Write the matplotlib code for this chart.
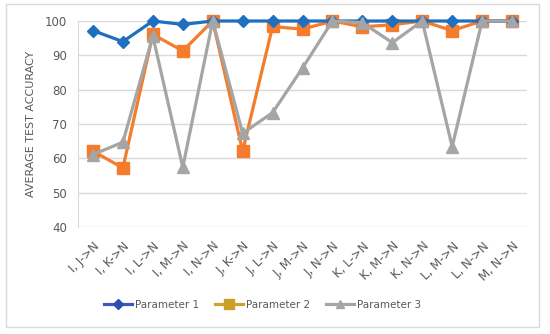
import matplotlib
matplotlib.use("Agg")
import matplotlib.pyplot as plt
from matplotlib.lines import Line2D
from matplotlib.patches import Rectangle

categories = ["I, J->N", "I, K->N", "I, L->N", "I, M->N", "I, N->N", "J, K->N",
              "J, L->N", "J, M->N", "J, N->N", "K, L->N", "K, M->N", "K, N->N",
              "L, M->N", "L, N->N", "M, N->N"]
param1 = [97.2, 94.0, 100, 99.0, 100, 100, 100, 100, 100, 100, 100, 100, 100, 100, 100]
param2 = [62.1, 57.2, 96.1, 91.3, 100, 62.1, 98.4, 97.6, 100, 98.3, 98.9, 100, 97.2, 100, 100]
param3 = [61.1, 64.7, 95.6, 57.4, 100, 67.3, 73.3, 86.3, 100, 99.5, 93.7, 100, 63.4, 100, 100]
series_names = ["Parameter 1", "Parameter 2", "Parameter 3"]
yticks = [40, 50, 60, 70, 80, 90, 100]

c1, c2, c3 = "#1F6FC0", "#F47C2C", "#A5A5A5"

fig = plt.figure(figsize=(5.5, 3.34), dpi=100)
fig.patches.append(Rectangle((6/550, 1-327/334), (539-6)/550, (327-4)/334,
                             transform=fig.transFigure, fill=False,
                             edgecolor="#D9D9D9", linewidth=1))
ax = fig.add_axes([78/550, 1-227/334, (527-78)/550, (227-21)/334])

x = list(range(len(categories)))
ax.plot(x, param1, color=c1, lw=2.3, marker="D", ms=6, mfc=c1, mec=c1, clip_on=False, zorder=5)
ax.plot(x, param2, color=c2, lw=2.3, marker="s", ms=8, mfc=c2, mec=c2, clip_on=False, zorder=4)
ax.plot(x, param3, color=c3, lw=2.3, marker="^", ms=8, mfc=c3, mec=c3, clip_on=False, zorder=6)

ax.set_xlim(-0.5, len(categories) - 0.5)
ax.set_ylim(40, 100)
ax.set_yticks(yticks)
ax.set_yticklabels([str(v) for v in yticks], fontsize=8.5, color="#595959")
ax.yaxis.grid(True, color="#D9D9D9", lw=1)
ax.set_axisbelow(True)
ax.set_xticks(x)
ax.set_xticklabels(categories, rotation=45, ha="right", va="top",
                   rotation_mode="anchor", fontsize=8.5, color="#595959")
ax.tick_params(axis="both", length=0)
ax.tick_params(axis="x", pad=9)
ax.tick_params(axis="y", pad=8)
for s in ["top", "right", "bottom"]:
    ax.spines[s].set_visible(False)
ax.spines["left"].set_color("#D9D9D9")
ax.set_ylabel("AVERAGE TEST ACCURACY", fontsize=8, color="#595959", labelpad=6)

handles = [
    Line2D([], [], color="#3F55C0", lw=2.3, marker="D", ms=5, mfc="#2F4FB0", mec="#2F4FB0"),
    Line2D([], [], color="#D4A030", lw=2.3, marker="s", ms=7, mfc="#C8A028", mec="#C8A028"),
    Line2D([], [], color=c3, lw=2.3, marker="^", ms=6, mfc=c3, mec=c3),
]
fig.legend(handles, series_names, loc="center", bbox_to_anchor=(0.477, 1-305/334),
           ncol=3, frameon=False, fontsize=7.5, handlelength=2.7, handletextpad=0.3,
           columnspacing=1.5, labelcolor="#595959")

fig.savefig("out.png", dpi=100)
